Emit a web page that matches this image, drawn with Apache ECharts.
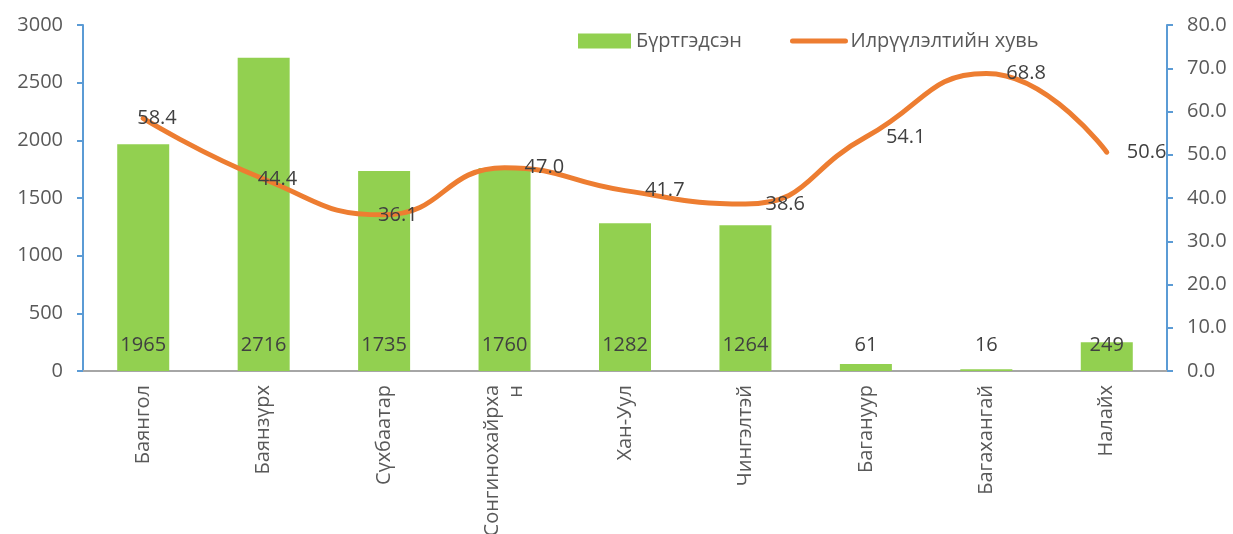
<!DOCTYPE html>
<html>
<head>
<meta charset="utf-8">
<script src="https://cdn.jsdelivr.net/npm/echarts@6/dist/echarts.min.js"></script>
<style>
  html, body { margin: 0; padding: 0; background: #fff; }
  #chart { width: 1233px; height: 534px; }
</style>
</head>
<body>
<div id="chart"></div>
<script>
// districts
const categories = ['Баянгол', 'Баянзүрх', 'Сүхбаатар', 'Сонгинохайрха\nн', 'Хан-Уул', 'Чингэлтэй', 'Багануур', 'Багахангай', 'Налайх'];
// registered counts (left axis)
const registered = [1965, 2716, 1735, 1760, 1282, 1264, 61, 16, 249];
// detection rate, % (right axis)
const detectionRate = [58.4, 44.4, 36.1, 47.0, 41.7, 38.6, 54.1, 68.8, 50.6];

const font = 'Open Sans';
const textColor = '#595959';
const axisBlue = '#5B9BD5';

const chart = echarts.init(document.getElementById('chart'));

// first three labels in the original sit on top of the point instead of to its right
const lineData = detectionRate.map((v, i) => i < 3 ? { value: v, label: { offset: [-26, 0] } } : v);

const option = {
  animation: false,
  textStyle: { fontFamily: font },
  legend: {
    top: 26,
    left: 573,
    itemGap: 48,
    itemWidth: 53,
    itemHeight: 15,
    textStyle: { fontFamily: font, fontSize: 20, color: textColor },
    data: [
      { name: 'Бүртгэдсэн', icon: 'rect' },
      { name: 'Илрүүлэлтийн хувь', itemStyle: { opacity: 0 }, lineStyle: { width: 5, cap: 'round' } }
    ]
  },
  grid: { left: 83, right: 66, top: 25, bottom: 163, outerBoundsMode: 'none' },
  xAxis: {
    type: 'category',
    data: categories,
    axisLine: { lineStyle: { color: '#A6A6A6', width: 2 } },
    axisTick: { show: false },
    axisLabel: {
      rotate: 90,
      fontFamily: font,
      fontSize: 20,
      color: textColor,
      margin: 14,
      lineHeight: 24
    }
  },
  yAxis: [
    {
      type: 'value',
      min: 0,
      max: 3000,
      interval: 500,
      axisLine: { show: true, lineStyle: { color: axisBlue, width: 2 } },
      axisTick: { show: true, length: 6, lineStyle: { color: axisBlue, width: 2 } },
      splitLine: { show: false },
      axisLabel: { fontFamily: font, fontSize: 20, color: textColor, margin: 20, formatter: v => String(v) }
    },
    {
      type: 'value',
      min: 0,
      max: 80,
      interval: 10,
      position: 'right',
      axisLine: { show: true, lineStyle: { color: axisBlue, width: 2 } },
      axisTick: { show: true, length: 6, lineStyle: { color: axisBlue, width: 2 } },
      splitLine: { show: false },
      axisLabel: {
        fontFamily: font, fontSize: 20, color: textColor, margin: 20,
        formatter: v => v.toFixed(1)
      }
    }
  ],
  series: [
    {
      name: 'Бүртгэдсэн',
      type: 'bar',
      yAxisIndex: 0,
      data: registered,
      barWidth: 52,
      itemStyle: { color: '#92D050' },
      label: {
        show: true,
        position: 'insideBottom',
        distance: 16,
        fontFamily: font,
        fontSize: 20,
        color: '#404040'
      }
    },
    {
      name: 'Илрүүлэлтийн хувь',
      type: 'line',
      yAxisIndex: 1,
      data: lineData,
      smooth: 0.5,
      symbol: 'circle',
      symbolSize: 0,
      showSymbol: true,
      lineStyle: { color: '#ED7D31', width: 5, cap: 'round' },
      itemStyle: { color: '#ED7D31' },
      label: {
        show: true,
        position: 'right',
        distance: 20,
        fontFamily: font,
        fontSize: 20,
        color: '#404040',
        formatter: p => p.value.toFixed(1)
      },
      z: 3
    }
  ]
};

chart.setOption(option);
</script>
</body>
</html>
